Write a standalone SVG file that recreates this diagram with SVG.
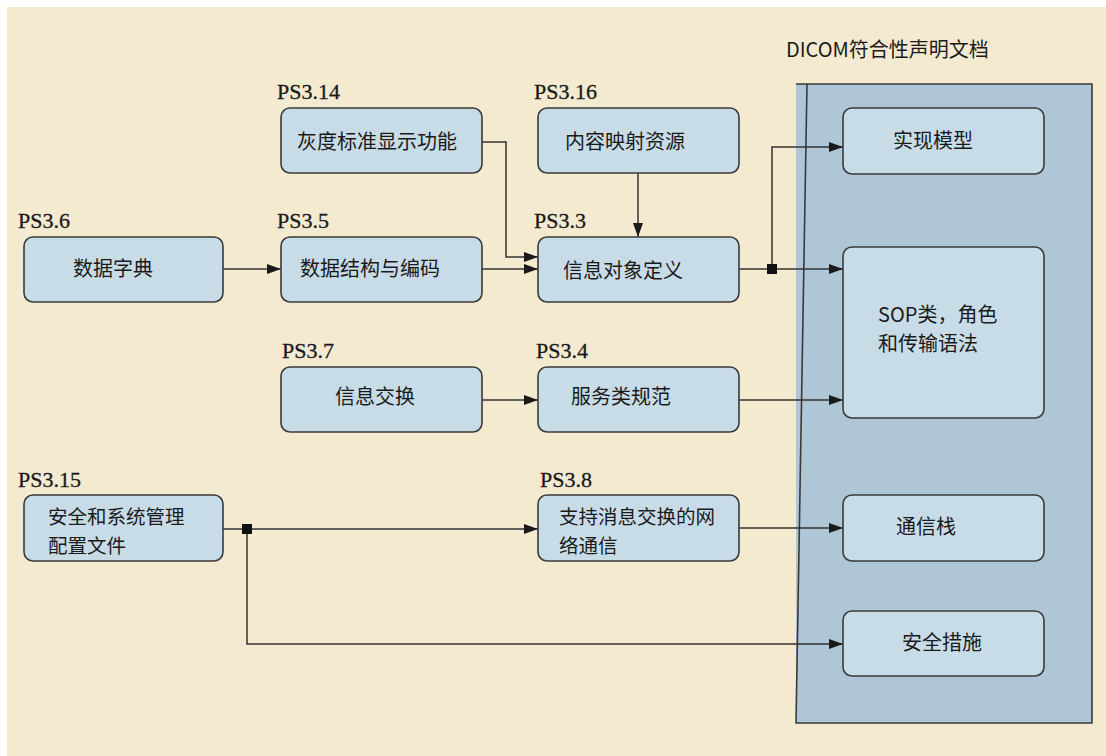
<svg xmlns="http://www.w3.org/2000/svg" width="1106" height="756" viewBox="0 0 1106 756">
<defs>
<style>
.node{fill:#C8DCE7;stroke:#3a3a3a;stroke-width:1.6}
.t{font-family:"Noto Sans CJK SC","Noto Sans",sans-serif;font-size:20px;fill:#1a1a1a}
.t2{font-family:"Noto Sans CJK SC","Noto Sans",sans-serif;font-size:19.5px;fill:#1a1a1a}
.ps{font-family:"Liberation Serif",serif;font-size:22px;fill:#1a1a1a;stroke:#1a1a1a;stroke-width:0.3}
.c{fill:none;stroke:#333;stroke-width:1.5}
</style>
<marker id="ah" viewBox="0 0 14 10" refX="14" refY="5" markerWidth="14" markerHeight="10" markerUnits="userSpaceOnUse" orient="auto">
<path d="M0,0 L14,5 L0,10 Z" fill="#1a1a1a"/>
</marker>
</defs>
<rect x="0" y="0" width="1106" height="756" fill="#ffffff"/>
<rect x="7" y="7" width="1099" height="749" fill="#F4EAD0"/>

<g id="panel">
<rect x="796" y="84" width="296" height="639" fill="#AEC6D6"/>
<path d="M796,84 H1092 V723 H796 L807,84" fill="none" stroke="#3a3a3a" stroke-width="1.6"/>
<text x="786" y="57" font-family="Noto Sans CJK SC,Noto Sans,sans-serif" font-size="20" fill="#1a1a1a">DICOM符合性声明文档</text>
</g>

<g id="connectors">
<path class="c" d="M223,269 H281" marker-end="url(#ah)"/>
<path class="c" d="M482,269 H538" marker-end="url(#ah)"/>
<path class="c" d="M482,142 H506 V257 H538" marker-end="url(#ah)"/>
<path class="c" d="M638,173 V237" marker-end="url(#ah)"/>
<path class="c" d="M739,269 H843" marker-end="url(#ah)"/>
<path class="c" d="M772,269 V147 H843" marker-end="url(#ah)"/>
<path class="c" d="M482,400 H538" marker-end="url(#ah)"/>
<path class="c" d="M739,400 H843" marker-end="url(#ah)"/>
<path class="c" d="M223,529 H538" marker-end="url(#ah)"/>
<path class="c" d="M247,529 V644 H843" marker-end="url(#ah)"/>
<path class="c" d="M739,528 H843" marker-end="url(#ah)"/>
<rect x="767" y="264" width="10" height="10" fill="#111"/>
<rect x="242" y="524" width="10" height="10" fill="#111"/>
</g>

<g id="n-ps36">
<text class="ps" x="18" y="228">PS3.6</text>
<rect class="node" x="24" y="237" width="199" height="65" rx="9"/>
<text class="t" x="73" y="276">数据字典</text>
</g>
<g id="n-ps35">
<text class="ps" x="277" y="228">PS3.5</text>
<rect class="node" x="281" y="237" width="201" height="65" rx="9"/>
<text class="t" x="300" y="276">数据结构与编码</text>
</g>
<g id="n-ps314">
<text class="ps" x="277" y="99">PS3.14</text>
<rect class="node" x="281" y="108" width="201" height="65" rx="9"/>
<text class="t" x="297" y="149">灰度标准显示功能</text>
</g>
<g id="n-ps316">
<text class="ps" x="534" y="99">PS3.16</text>
<rect class="node" x="538" y="108" width="201" height="65" rx="9"/>
<text class="t" x="565" y="149">内容映射资源</text>
</g>
<g id="n-ps33">
<text class="ps" x="534" y="228">PS3.3</text>
<rect class="node" x="538" y="237" width="201" height="65" rx="9"/>
<text class="t" x="563" y="278">信息对象定义</text>
</g>
<g id="n-ps37">
<text class="ps" x="282" y="358">PS3.7</text>
<rect class="node" x="281" y="367" width="201" height="65" rx="9"/>
<text class="t" x="335" y="404">信息交换</text>
</g>
<g id="n-ps34">
<text class="ps" x="536" y="358">PS3.4</text>
<rect class="node" x="538" y="367" width="201" height="65" rx="9"/>
<text class="t" x="571" y="404">服务类规范</text>
</g>
<g id="n-ps315">
<text class="ps" x="18" y="487">PS3.15</text>
<rect class="node" x="24" y="495" width="199" height="66" rx="9"/>
<text class="t2" x="48" y="524">安全和系统管理</text>
<text class="t2" x="48" y="553">配置文件</text>
</g>
<g id="n-ps38">
<text class="ps" x="540" y="487">PS3.8</text>
<rect class="node" x="538" y="495" width="201" height="66" rx="9"/>
<text class="t2" x="559" y="524">支持消息交换的网</text>
<text class="t2" x="559" y="553">络通信</text>
</g>
<g id="n-impl">
<rect class="node" x="843" y="108" width="201" height="66" rx="9"/>
<text class="t" x="893" y="148">实现模型</text>
</g>
<g id="n-sop">
<rect class="node" x="843" y="247" width="201" height="171" rx="9"/>
<text class="t" x="878" y="322">SOP类，角色</text>
<text class="t" x="878" y="351">和传输语法</text>
</g>
<g id="n-stack">
<rect class="node" x="843" y="495" width="201" height="66" rx="9"/>
<text class="t" x="896" y="534">通信栈</text>
</g>
<g id="n-sec">
<rect class="node" x="843" y="611" width="201" height="65" rx="9"/>
<text class="t" x="902" y="650">安全措施</text>
</g>
</svg>
